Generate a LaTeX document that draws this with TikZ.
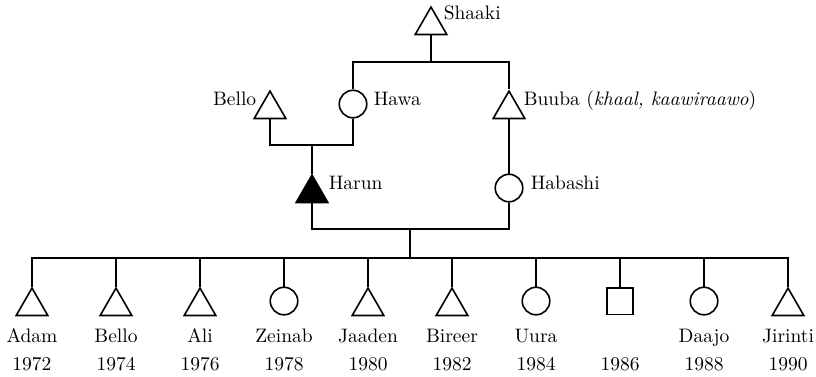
\documentclass[tikz,border=0pt]{standalone}
\usepackage{fontspec}
\setmainfont{lmroman10-regular}[Extension=.otf,ItalicFont=lmroman10-italic]
\usetikzlibrary{shapes.geometric}
\begin{document}
\begin{tikzpicture}[x=1pt,y=-1pt,line width=1.6pt,
  male/.style={regular polygon,regular polygon sides=3,minimum size=36.5pt,inner sep=0pt,draw,anchor=north},
  female/.style={circle,minimum size=27.5pt,inner sep=0pt,draw,anchor=north},
  unk/.style={rectangle,minimum size=26.5pt,inner sep=0pt,draw,anchor=north},
  lbl/.style={inner sep=0pt,font=\fontsize{19.5}{24}\selectfont}]
\useasboundingbox (0,0) rectangle (816,377);
% ancestors
\node[male] (shaaki) at (431,5.5) {};
\node[lbl,anchor=base west] (tshaaki) at (443,20) {Shaaki};
\node[male] (bello) at (270,89.5) {};
\node[lbl,anchor=base east] (tbello) at (257,106) {Bello};
\node[female] (hawa) at (353,89.5) {};
\node[lbl,anchor=base west] (thawa) at (373,106) {Hawa};
\node[male] (buuba) at (509,89.5) {};
\node[lbl,anchor=base west] (tbuuba) at (523,106) {Buuba (\textit{khaal, kaawiraawo})};
\node[male,fill=black] (harun) at (312,173.5) {};
\node[lbl,anchor=base west] (tharun) at (328,189) {Harun};
\node[female] (habashi) at (509,173.5) {};
\node[lbl,anchor=base west] (thabashi) at (530,189) {Habashi};
\coordinate (sj) at (431,62);
\coordinate (m1) at (312,145);
\coordinate (m2) at (410,229);
\coordinate (sib) at (410,258);
\draw (shaaki.south) -- (sj);
\draw (hawa.north) |- (sj) -| (buuba.north);
\draw (bello.south) |- (m1) -| (hawa.south);
\draw (m1) -- (harun.north);
\draw (buuba.south) -- (habashi.north);
\draw (harun.south) |- (m2) -| (habashi.south);
\draw (m2) -- (sib);
% children
\node[male] (c1) at (32,286.5) {};
\node[male] (c2) at (116,286.5) {};
\node[male] (c3) at (200,286.5) {};
\node[female] (c4) at (284,286.5) {};
\node[male] (c5) at (368,286.5) {};
\node[male] (c6) at (452,286.5) {};
\node[female] (c7) at (536,286.5) {};
\node[unk] (c8) at (620,287) {};
\node[female] (c9) at (704,286.5) {};
\node[male] (c10) at (788,286.5) {};
\draw (c1.north) |- (sib);
\draw (c10.north) |- (sib);
\foreach \i in {2,...,9} {\draw (c\i.north) -- (c\i.north |- sib);}
\node[lbl,anchor=base] (n1) at (32,342) {Adam};
\node[lbl,anchor=base] (n2) at (116,342) {Bello};
\node[lbl,anchor=base] (n3) at (200,342) {Ali};
\node[lbl,anchor=base] (n4) at (284,342) {Zeinab};
\node[lbl,anchor=base] (n5) at (368,342) {Jaaden};
\node[lbl,anchor=base] (n6) at (452,342) {Bireer};
\node[lbl,anchor=base] (n7) at (536,342) {Uura};
\node[lbl,anchor=base] (n9) at (704,342) {Daajo};
\node[lbl,anchor=base] (n10) at (788,342) {Jirinti};
\node[lbl,anchor=base] (y1) at (32,370) {1972};
\node[lbl,anchor=base] (y2) at (116,370) {1974};
\node[lbl,anchor=base] (y3) at (200,370) {1976};
\node[lbl,anchor=base] (y4) at (284,370) {1978};
\node[lbl,anchor=base] (y5) at (368,370) {1980};
\node[lbl,anchor=base] (y6) at (452,370) {1982};
\node[lbl,anchor=base] (y7) at (536,370) {1984};
\node[lbl,anchor=base] (y8) at (620,370) {1986};
\node[lbl,anchor=base] (y9) at (704,370) {1988};
\node[lbl,anchor=base] (y10) at (788,370) {1990};
\end{tikzpicture}
\end{document}
